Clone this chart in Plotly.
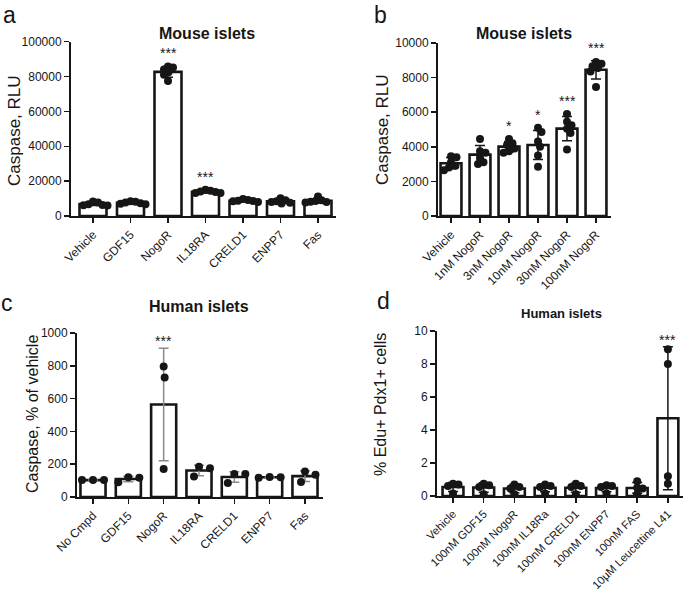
import numpy as np
import plotly.graph_objects as go

# ---------------- data ----------------
# Panel a: Mouse islets, Caspase RLU
a_cats = ["Vehicle", "GDF15", "NogoR", "IL18RA", "CRELD1", "ENPP7", "Fas"]
a_pts = [
    [8300, 7800, 6800, 6300, 6200, 6000],
    [8500, 8200, 7800, 7300, 6800, 7000],
    [85800, 85200, 84000, 82500, 81000, 77500],
    [15000, 14500, 14000, 13800, 13200, 13200],
    [9700, 9200, 8800, 8600, 8400, 8000],
    [10200, 9000, 8400, 8000, 7600, 7200],
    [11200, 9000, 8600, 8200, 8000, 7700],
]
a_sig = ["", "", "***", "***", "", "", ""]
a_yticks = [0, 20000, 40000, 60000, 80000, 100000]

# Panel b: Mouse islets, NogoR dose
b_cats = ["Vehicle", "1nM NogoR", "3nM NogoR", "10nM NogoR", "30nM NogoR", "100nM NogoR"]
b_pts = [
    [3450, 3400, 3100, 2900, 2800, 2650],
    [4450, 3750, 3650, 3350, 3100, 3000],
    [4450, 4200, 4100, 3900, 3750, 3650],
    [5100, 4850, 4300, 4000, 3500, 2850],
    [5900, 5450, 5250, 5050, 4800, 3850],
    [8900, 8800, 8650, 8550, 8350, 7450],
]
b_sig = ["", "", "*", "*", "***", "***"]
b_yticks = [0, 2000, 4000, 6000, 8000, 10000]

# Panel c: Human islets, % of vehicle
c_cats = ["No Cmpd", "GDF15", "NogoR", "IL18RA", "CRELD1", "ENPP7", "Fas"]
c_pts = [
    [103, 103, 103],
    [120, 90, 118],
    [795, 728, 170],
    [185, 175, 125],
    [140, 140, 85],
    [122, 118, 120],
    [155, 135, 92],
]
c_sig = ["", "", "***", "", "", "", ""]
c_yticks = [0, 200, 400, 600, 800, 1000]

# Panel d: Human islets, % Edu+ Pdx1+ cells
d_cats = ["Vehicle", "100nM GDF15", "100nM NogoR", "100nM IL18Ra", "100nM CRELD1",
          "100nM ENPP7", "100nM FAS", "10μM Leucettine L41"]
d_pts = [
    [0.75, 0.7, 0.6, 0.15],
    [0.75, 0.65, 0.55, 0.1],
    [0.7, 0.55, 0.45, 0.1],
    [0.7, 0.6, 0.55, 0.15],
    [0.75, 0.6, 0.55, 0.1],
    [0.65, 0.6, 0.55, 0.15],
    [0.9, 0.5, 0.45, 0.1],
    [8.9, 8.0, 0.75, 1.2],
]
d_sig = ["", "", "", "", "", "", "", "***"]
d_yticks = [0, 2, 4, 6, 8, 10]

# ---------------- layout config (pixels) ----------------
W, H = 685, 593
FONT = "Liberation Sans, Arial, sans-serif"
INK = "#161616"

panels = [
    dict(cats=a_cats, pts=a_pts, sig=a_sig, yt=a_yticks, x0=71, x1=336, yt_px=41.7, yb_px=216,
         c0=93, dc=37.5, bw=0.72, ecol=INK, starshift=3, diam=5.0, xfs=12,
         title="Mouse islets", tx=207, ty=33, tsize=16,
         ytitle="Caspase, RLU", ytx=14, yty=131, ytsize=17,
         lab="a", lx=9, ly=None),
    dict(cats=b_cats, pts=b_pts, sig=b_sig, yt=b_yticks, x0=438, x1=611, yt_px=43, yb_px=216,
         c0=451, dc=29, bw=0.72, ecol=INK, starshift=3, diam=5.5, xfs=12,
         title="Mouse islets", tx=524, ty=33, tsize=16,
         ytitle="Caspase, RLU", ytx=382, yty=130, ytsize=17,
         lab="b", lx=380, ly=None),
    dict(cats=c_cats, pts=c_pts, sig=c_sig, yt=c_yticks, x0=77, x1=323, yt_px=333, yb_px=497,
         c0=93, dc=35.33, bw=0.71, ecol="#8a8a8a", starshift=-3, diam=11.0, xfs=12,
         title="Human islets", tx=199, ty=306, tsize=16,
         ytitle="Caspase, % of vehicle", ytx=32, yty=414, ytsize=16,
         lab="c", lx=7, ly=303),
    dict(cats=d_cats, pts=d_pts, sig=d_sig, yt=d_yticks, x0=437, x1=683, yt_px=331, yb_px=496,
         c0=453, dc=30.7, bw=0.68, ecol=INK, starshift=-3, diam=5.5, xfs=11.3,
         title="Human islets", tx=561, ty=313, tsize=13,
         ytitle="% Edu+ Pdx1+ cells", ytx=380, yty=405, ytsize=16,
         lab="d", lx=383, ly=301),
]


def swarm(vals, ppu, ppc, diam=8.5, step=0.5):
    """Simple beeswarm: returns x offsets in category units."""
    order = sorted(range(len(vals)), key=lambda i: -vals[i])
    placed = []
    offs = [0.0] * len(vals)
    for i in order:
        y = vals[i] * ppu
        k = 0
        done = False
        while not done:
            cands = [0.0] if k == 0 else [k * step, -k * step]
            for c in cands:
                if all((c - px) ** 2 + (y - py) ** 2 >= diam ** 2 for px, py in placed):
                    placed.append((c, y))
                    offs[i] = c / ppc
                    done = True
                    break
            k += 1
    return offs


fig = go.Figure()
annotations = []
layout_axes = {}

for k, p in enumerate(panels, start=1):
    xa = "x" if k == 1 else f"x{k}"
    ya = "y" if k == 1 else f"y{k}"
    n = len(p["cats"])
    idx = list(range(n))
    pts = [np.array(v, dtype=float) for v in p["pts"]]
    means = [float(v.mean()) for v in pts]
    sds = [float(v.std(ddof=1)) for v in pts]
    ymax = p["yt"][-1]

    xr = [(p["x0"] - p["c0"]) / p["dc"], (p["x1"] - p["c0"]) / p["dc"]]
    ppu = (p["yb_px"] - p["yt_px"]) / ymax

    fig.add_trace(go.Bar(
        x=idx, y=means, width=p["bw"], xaxis=xa, yaxis=ya, showlegend=False,
        marker=dict(color="white", line=dict(color=INK, width=2.6)),
        hoverinfo="skip"))
    fig.add_trace(go.Scatter(
        x=idx, y=means, mode="markers", xaxis=xa, yaxis=ya, showlegend=False,
        marker=dict(size=1, color="rgba(0,0,0,0)"),
        error_y=dict(type="data", array=sds, visible=True, thickness=1.5,
                     width=5, color=p["ecol"]),
        cliponaxis=False, hoverinfo="skip"))
    xs, ys = [], []
    for i, v in enumerate(pts):
        offs = swarm(list(v), ppu, p["dc"], diam=p["diam"])
        xs += [i + o for o in offs]
        ys += list(v)
    fig.add_trace(go.Scatter(
        x=xs, y=ys, mode="markers", xaxis=xa, yaxis=ya, showlegend=False,
        marker=dict(size=8, color=INK), cliponaxis=False))

    for i, s in enumerate(p["sig"]):
        if s:
            top = max(means[i] + sds[i], float(pts[i].max()))
            annotations.append(dict(
                x=i, y=top, xref=xa, yref=ya, text=s, showarrow=False,
                yanchor="bottom", yshift=p["starshift"],
                font=dict(family=FONT, size=14, color=INK)))

    axis_common = dict(showline=True, linewidth=2, linecolor=INK, ticks="outside",
                       ticklen=5, tickwidth=1.5, tickcolor=INK, showgrid=False,
                       zeroline=False, automargin=False)
    layout_axes["xaxis" if k == 1 else f"xaxis{k}"] = dict(
        axis_common, domain=[p["x0"] / W, p["x1"] / W], range=xr,
        tickvals=idx, ticktext=p["cats"], tickangle=-45,
        tickfont=dict(family=FONT, size=p["xfs"], color=INK),
        anchor=ya)
    layout_axes["yaxis" if k == 1 else f"yaxis{k}"] = dict(
        axis_common, domain=[1 - p["yb_px"] / H, 1 - p["yt_px"] / H],
        range=[0, ymax], tickvals=p["yt"], ticktext=[str(t) for t in p["yt"]],
        tickfont=dict(family=FONT, size=12, color=INK),
        anchor=xa)

    annotations.append(dict(
        x=p["tx"] / W, y=1 - p["ty"] / H, xref="paper", yref="paper",
        text=f"<b>{p['title']}</b>", showarrow=False, xanchor="center", yanchor="middle",
        font=dict(family=FONT, size=p["tsize"], color=INK)))
    annotations.append(dict(
        x=p["ytx"] / W, y=1 - p["yty"] / H, xref="paper", yref="paper",
        text=p["ytitle"], showarrow=False, textangle=-90, xanchor="center", yanchor="middle",
        font=dict(family=FONT, size=p["ytsize"], color=INK)))
    if p["ly"] is None:
        annotations.append(dict(
            x=p["lx"] / W, y=1, xref="paper", yref="paper",
            text=p["lab"], showarrow=False, xanchor="center", yanchor="top",
            font=dict(family=FONT, size=23, color=INK)))
    else:
        annotations.append(dict(
            x=p["lx"] / W, y=1 - p["ly"] / H, xref="paper", yref="paper",
            text=p["lab"], showarrow=False, xanchor="center", yanchor="middle",
            font=dict(family=FONT, size=23, color=INK)))

fig.update_layout(
    width=W, height=H, autosize=False,
    margin=dict(l=0, r=0, t=0, b=0, pad=0, autoexpand=False),
    paper_bgcolor="white", plot_bgcolor="rgba(0,0,0,0)",
    barmode="overlay", annotations=annotations,
    **layout_axes)

fig.write_html("out.html",
               config={"displayModeBar": False, "staticPlot": True},
               post_script="document.body.style.margin='0px';document.body.style.padding='0px';")
